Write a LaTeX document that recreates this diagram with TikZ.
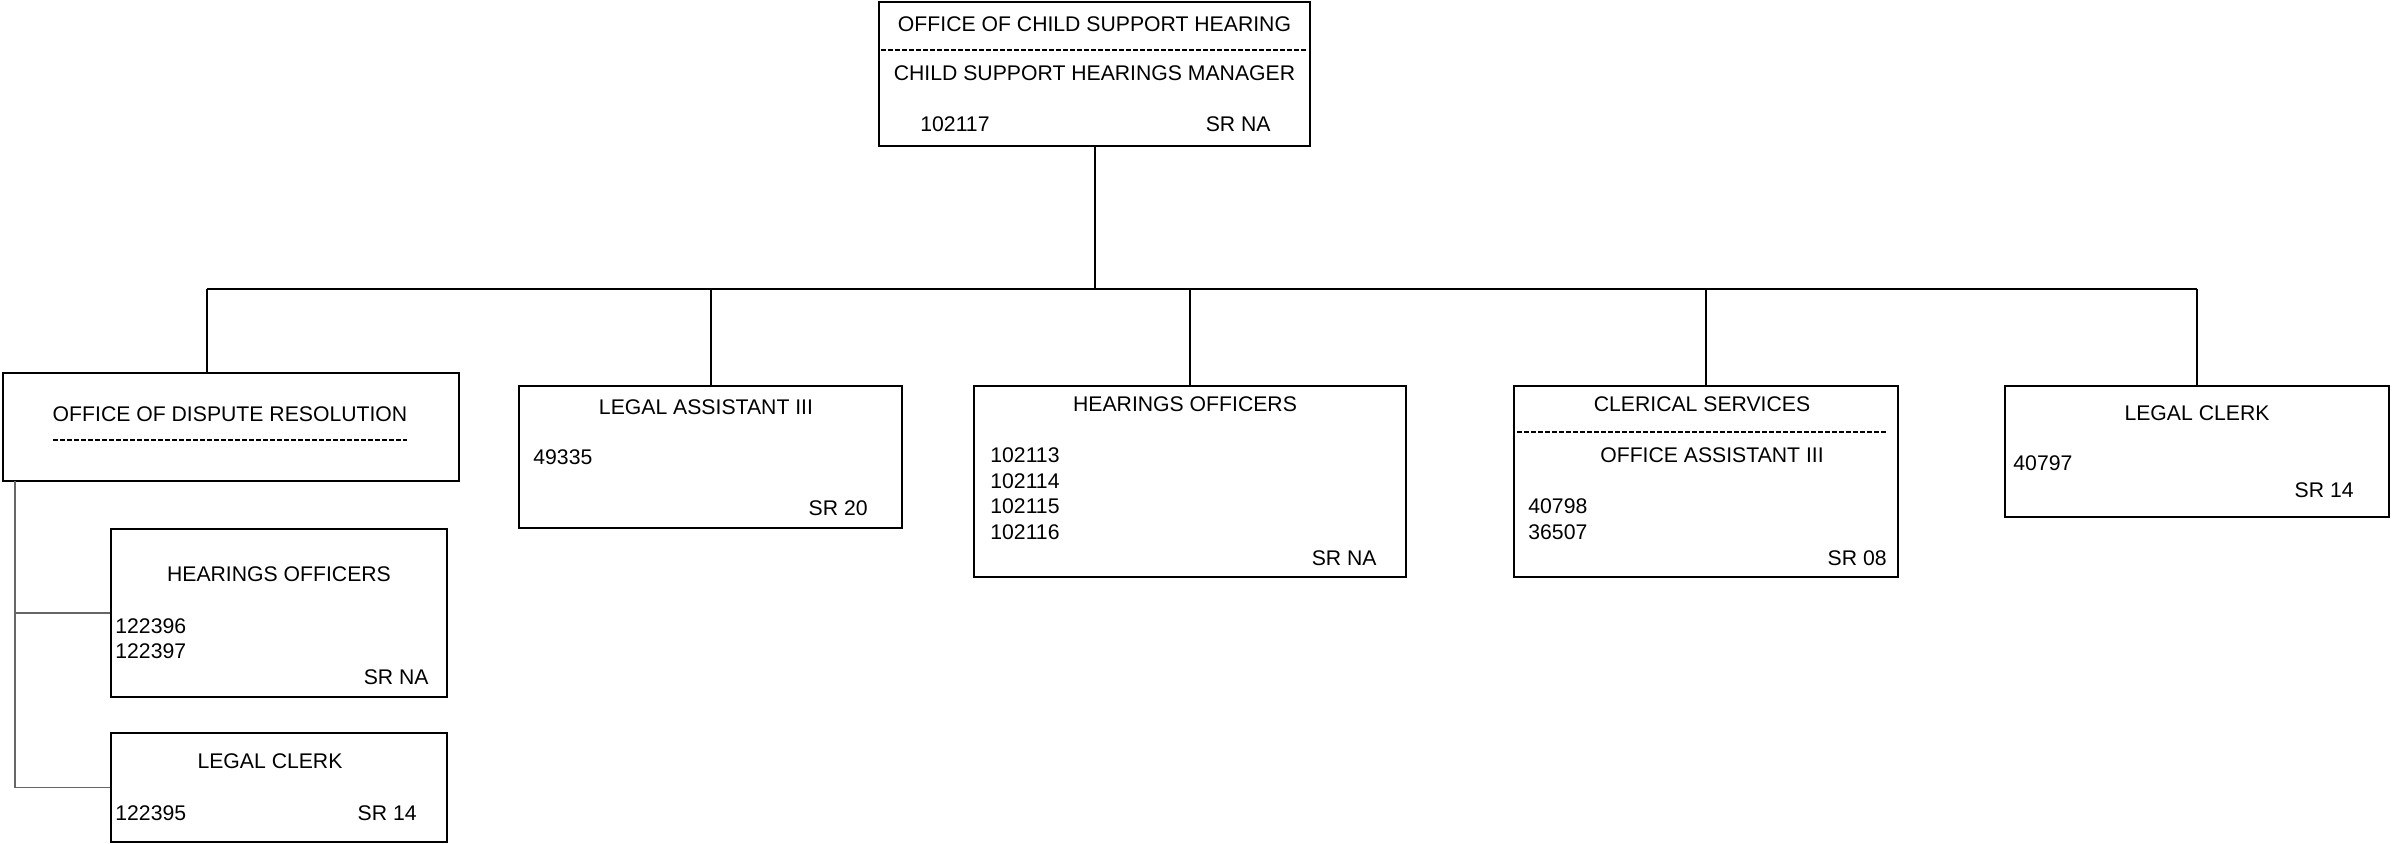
\documentclass[tikz,border=0pt]{standalone}
\usepackage{fontspec}
\setmainfont{Liberation Sans}

\begin{document}
\begin{tikzpicture}[x=0.5pt, y=-0.5pt, font=\fontsize{10.6}{12}\selectfont,
    box/.style={draw, line width=1pt, inner sep=0pt},
    txt/.style={inner sep=0pt, anchor=base},
    num/.style={inner sep=0pt, anchor=base west},
    grade/.style={inner sep=0pt, anchor=base east},
    link/.style={line width=1pt},
    sublink/.style={line width=0.6pt, black!60},
    rule/.style={line width=0.75pt, dash pattern=on 2.65pt off 0.85pt}]

  \useasboundingbox (0,0) rectangle (2392,843);

  % Child support hearing
  \node[box, minimum width=215.5pt, minimum height=72pt] (csh) at (1094.5,74) {};
  \node[txt] (cshname) at (1094.5,31) {OFFICE OF CHILD SUPPORT HEARING};
  \draw[rule] (881,50) -- (1306,50);
  \node[txt] (cshtitle) at (1094.5,80) {CHILD SUPPORT HEARINGS MANAGER};
  \node[num] (cshpos) at (920,131) {102117};
  \node[grade] (cshsr) at (1271,131) {SR NA};

  % Dispute resolution
  \node[box, minimum width=228pt, minimum height=54pt] (odr) at (231,427) {};
  \node[txt] (odrname) at (230,421) {OFFICE OF DISPUTE RESOLUTION};
  \draw[rule] (53,440) -- (407,440);

  % Hearings officers (dispute resolution)
  \node[box, minimum width=168pt, minimum height=84pt] (hos) at (279,613) {};
  \node[txt] (hosname) at (279,581) {HEARINGS OFFICERS};
  \node[num] (hospos1) at (115,633) {122396};
  \node[num] (hospos2) at (115,658) {122397};
  \node[grade] (hossr) at (429,684) {SR NA};

  % Legal clerk (dispute resolution)
  \node[box, minimum width=168pt, minimum height=54.5pt] (lcs) at (279,787.5) {};
  \node[txt] (lcsname) at (270,768) {LEGAL CLERK};
  \node[num] (lcspos) at (115,820) {122395};
  \node[grade] (lcssr) at (417,820) {SR 14};

  % Legal assistant
  \node[box, minimum width=191.5pt, minimum height=71pt] (la) at (710.5,457) {};
  \node[txt] (laname) at (706,414) {LEGAL ASSISTANT III};
  \node[num] (lapos) at (533,464) {49335};
  \node[grade] (lasr) at (868,515) {SR 20};

  % Hearings officers
  \node[box, minimum width=216pt, minimum height=95.5pt] (ho) at (1190,481.5) {};
  \node[txt] (honame) at (1185,411) {HEARINGS OFFICERS};
  \node[num] (hopos1) at (990,462) {102113};
  \node[num] (hopos2) at (990,488) {102114};
  \node[num] (hopos3) at (990,513) {102115};
  \node[num] (hopos4) at (990,539) {102116};
  \node[grade] (hosr) at (1377,565) {SR NA};

  % Clerical services
  \node[box, minimum width=192pt, minimum height=95.5pt] (cs) at (1706,481.5) {};
  \node[txt] (csname) at (1702,411) {CLERICAL SERVICES};
  \draw[rule] (1517,432) -- (1886,432);
  \node[txt] (cstitle) at (1712,462) {OFFICE ASSISTANT III};
  \node[num] (cspos1) at (1528,513) {40798};
  \node[num] (cspos2) at (1528,539) {36507};
  \node[grade] (cssr) at (1887,565) {SR 08};

  % Legal clerk
  \node[box, minimum width=192pt, minimum height=65.5pt] (lc) at (2197,451.5) {};
  \node[txt] (lcname) at (2197,420) {LEGAL CLERK};
  \node[num] (lcpos) at (2013,470) {40797};
  \node[grade] (lcsr) at (2354,497) {SR 14};

  % Connectors
  \coordinate (busl) at (207,289);
  \coordinate (odrtop) at (207,373);
  \coordinate (odrleg) at (15,481);
  \draw[link] (busl) -- (lc.north |- busl);
  \draw[link] (csh.south) -- (csh.south |- busl);
  \draw[link] (busl) -- (odrtop);
  \foreach \n in {la, ho, cs, lc}
    \draw[link] (\n.north |- busl) -- (\n.north);
  \draw[sublink] (odrleg) |- (hos.west);
  \draw[sublink] (odrleg) |- (lcs.west);

\end{tikzpicture}
\end{document}
